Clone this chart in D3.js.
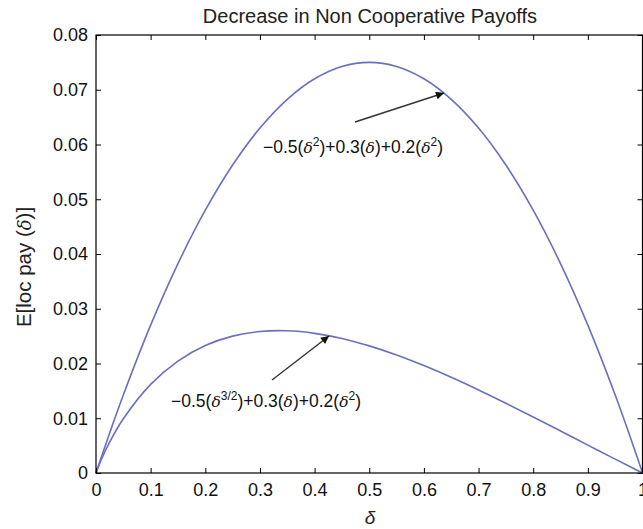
<!DOCTYPE html>
<html><head><meta charset="utf-8">
<script src="https://cdn.jsdelivr.net/npm/d3@7"></script>
<style>body{margin:0;background:#fff}svg{display:block}text{font-family:"Liberation Sans",Arial,sans-serif}</style>
</head><body><svg id="c" width="643" height="529"></svg>
<script>
const deltas = [0,0.01,0.025,0.05,0.1,0.15,0.2,0.25,0.3,0.35,0.4,0.45,0.5,0.55,0.6,0.65,0.7,0.75,0.8,0.85,0.9,0.95,0.975,0.99,1];
const upperPay = [0,0.00297,0.00731,0.01425,0.027,0.03825,0.048,0.05625,0.063,0.06825,0.072,0.07425,0.075,0.07425,0.072,0.06825,0.063,0.05625,0.048,0.03825,0.027,0.01425,0.00731,0.00297,0];
const lowerPay = [0,0.00252,0.00565,0.00991,0.01619,0.02045,0.02328,0.025,0.02584,0.02597,0.02551,0.02457,0.02322,0.02156,0.01962,0.01748,0.01517,0.01274,0.01023,0.00767,0.00509,0.00253,0.00127,0.00051,0];
const xTicks = [0,0.1,0.2,0.3,0.4,0.5,0.6,0.7,0.8,0.9,1];
const yTicks = [0,0.01,0.02,0.03,0.04,0.05,0.06,0.07,0.08];

const svg = d3.select("#c");
const L=96, R=642.5, T=35, B=473;
const x = d3.scaleLinear().domain([0,1]).range([L,R]);
const y = d3.scaleLinear().domain([0,0.08]).range([B,T]);

svg.append("defs").append("marker").attr("id","ah").attr("viewBox","0 0 10 10")
  .attr("refX",10).attr("refY",5).attr("markerWidth",11).attr("markerHeight",8)
  .attr("markerUnits","userSpaceOnUse").attr("orient","auto")
  .append("path").attr("d","M0,0L10,5L0,10z").attr("fill","#111");

const line = d3.line().x((d,i)=>x(deltas[i])).y(d=>y(d)).curve(d3.curveCatmullRom);
[upperPay, lowerPay].forEach(s=>{
  svg.append("path").attr("d",line(s)).attr("fill","none").attr("stroke","#6b6fc0").attr("stroke-width",1.6);
});

// axes
const fmt = d=> d===0?"0":d===1?"1":String(d);
const ax = (g,axis)=>g.call(axis).call(g=>g.select(".domain").remove()).call(g=>g.selectAll("line").attr("stroke","#000"));
svg.append("g").attr("transform",`translate(0,${B})`).call(g=>ax(g,d3.axisBottom(x).tickValues(xTicks).tickSize(-5).tickPadding(10).tickFormat(fmt)));
svg.append("g").attr("transform",`translate(0,${T})`).call(g=>ax(g,d3.axisTop(x).tickValues(xTicks).tickSize(-5).tickFormat("")));
svg.append("g").attr("transform",`translate(${L},0)`).call(g=>ax(g,d3.axisLeft(y).tickValues(yTicks).tickSize(-5).tickPadding(8).tickFormat(fmt)));
svg.append("g").attr("transform",`translate(${R},0)`).call(g=>ax(g,d3.axisRight(y).tickValues(yTicks).tickSize(-5).tickFormat("")));
svg.selectAll(".tick text").attr("font-size",18).attr("fill","#111").attr("font-family","Liberation Sans, Arial, sans-serif");
svg.append("rect").attr("x",L).attr("y",T).attr("width",R-L).attr("height",B-T).attr("fill","none").attr("stroke","#000").attr("stroke-width",1.2);

// title & labels
svg.append("text").attr("x",370).attr("y",23).attr("text-anchor","middle").attr("font-size",20).attr("fill","#222").text("Decrease in Non Cooperative Payoffs");
svg.append("text").attr("x",370).attr("y",524).attr("text-anchor","middle").attr("font-size",19).attr("font-style","italic").attr("font-family","DejaVu Serif, serif").attr("fill","#222").text("δ");
const yl = svg.append("text").attr("transform","translate(31,267) rotate(-90)").attr("text-anchor","middle").attr("font-size",20.5).attr("fill","#222");
yl.append("tspan").text("E[loc pay (");
yl.append("tspan").attr("font-style","italic").attr("font-family","DejaVu Serif, serif").attr("font-size",18).text("δ");
yl.append("tspan").text(")]");

// annotations
function label(xp,yp,parts){
  const t = svg.append("text").attr("x",xp).attr("y",yp).attr("font-size",17.5).attr("fill","#111");
  parts.forEach(p=>{
    const s=t.append("tspan").text(p.t);
    if(p.i) s.attr("font-style","italic").attr("font-family","DejaVu Serif, serif").attr("font-size",15.5);
    if(p.sup) s.attr("font-size",12).attr("dy",-7);
    if(p.down) s.attr("dy",7);
  });
}
svg.append("line").attr("x1",355).attr("y1",122).attr("x2",444).attr("y2",93).attr("stroke","#333").attr("stroke-width",1.4).attr("marker-end","url(#ah)");
label(263,153,[{t:"−0.5("},{t:"δ",i:1},{t:"2",sup:1},{t:")+0.3(",down:1},{t:"δ",i:1},{t:")+0.2("},{t:"δ",i:1},{t:"2",sup:1},{t:")",down:1}]);
svg.append("line").attr("x1",272).attr("y1",380).attr("x2",329).attr("y2",336).attr("stroke","#333").attr("stroke-width",1.4).attr("marker-end","url(#ah)");
label(171,407,[{t:"−0.5("},{t:"δ",i:1},{t:"3/2",sup:1},{t:")+0.3(",down:1},{t:"δ",i:1},{t:")+0.2("},{t:"δ",i:1},{t:"2",sup:1},{t:")",down:1}]);
</script></body></html>
